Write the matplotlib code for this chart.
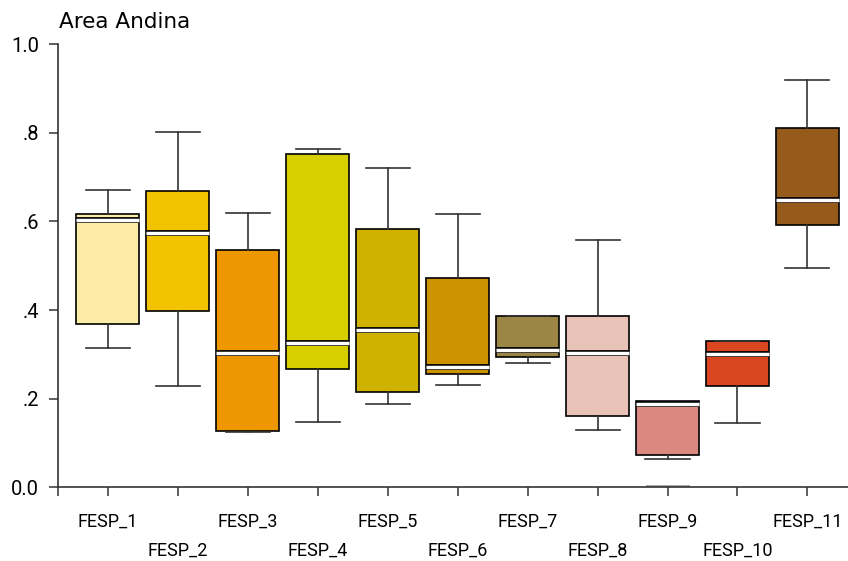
import matplotlib
matplotlib.use('Agg')
import matplotlib.pyplot as plt
import matplotlib.patheffects as pe

plt.rcParams['font.family'] = ['DejaVu Sans']

categories = ['FESP_1', 'FESP_2', 'FESP_3', 'FESP_4', 'FESP_5', 'FESP_6',
              'FESP_7', 'FESP_8', 'FESP_9', 'FESP_10', 'FESP_11']
whisker_low = [0.315, 0.228, 0.124, 0.148, 0.189, 0.231, 0.281, 0.130, 0.064, 0.144, 0.496]
q1 = [0.368, 0.399, 0.127, 0.267, 0.215, 0.256, 0.295, 0.162, 0.074, 0.228, 0.592]
medians = [0.604, 0.575, 0.304, 0.325, 0.356, 0.272, 0.310, 0.304, 0.188, 0.300, 0.649]
q3 = [0.616, 0.669, 0.535, 0.752, 0.584, 0.472, 0.386, 0.386, 0.194, 0.330, 0.811]
whisker_high = [0.672, 0.801, 0.619, 0.763, 0.720, 0.616, 0.386, 0.559, 0.194, 0.330, 0.920]
outliers = [[], [], [], [], [], [], [], [], [0.002], [], []]
colors = ['#FDEBA8', '#F2C300', '#EE9700', '#D8CF00', '#CFB100', '#CD9200',
          '#9C8646', '#EAC3B8', '#DB8880', '#D9461F', '#965B1B']

y_ticks = [0.0, 0.2, 0.4, 0.6, 0.8, 1.0]
y_labels = ['0.0', '.2', '.4', '.6', '.8', '1.0']

stats = []
for i, name in enumerate(categories):
    stats.append({
        'label': name,
        'whislo': whisker_low[i],
        'q1': q1[i],
        'med': medians[i],
        'q3': q3[i],
        'whishi': whisker_high[i],
        'fliers': outliers[i],
    })

fig = plt.figure(figsize=(8.48, 5.61), dpi=100)
ax = fig.add_axes([0.0684, 0.1314, 0.9316, 0.7897])

positions = list(range(1, len(categories) + 1))
bp = ax.bxp(stats, positions=positions, widths=0.9, capwidths=0.63,
            patch_artist=True, showfliers=True,
            boxprops=dict(edgecolor='black', linewidth=1.2),
            whiskerprops=dict(color='#333333', linewidth=1.2),
            capprops=dict(color='#333333', linewidth=1.2),
            medianprops=dict(color='white', linewidth=2.5, solid_capstyle='butt',
                             path_effects=[pe.Stroke(linewidth=4.2, foreground='black'),
                                           pe.Normal()]),
            flierprops=dict(marker='_', markersize=31, markeredgecolor='#999999',
                            markeredgewidth=1.2, linestyle='none'))

for box, c in zip(bp['boxes'], colors):
    box.set_facecolor(c)

ax.set_xlim(0.286, 11.58)
ax.set_ylim(0, 1.0)

for side in ['top', 'right']:
    ax.spines[side].set_visible(False)
for side in ['left', 'bottom']:
    ax.spines[side].set_color('#333333')
    ax.spines[side].set_linewidth(1.2)

# odd categories on the first row, even ones dropped to a second row
odd_pos = [0.286] + positions[0::2]
odd_lab = [''] + categories[0::2]
ax.set_xticks(odd_pos, labels=odd_lab)
ax.set_xticks(positions[1::2], labels=categories[1::2], minor=True)
ax.tick_params(axis='x', which='both', length=6.5, width=1.1, color='#333333',
               labelsize=13, labelfontfamily='Roboto')
ax.tick_params(axis='x', which='major', pad=12)
ax.tick_params(axis='x', which='minor', pad=32.5)

ax.set_yticks(y_ticks, labels=y_labels)
ax.tick_params(axis='y', length=6.5, width=1.1, color='#333333', labelsize=14.5,
               labelfontfamily='Roboto', pad=7)

fig.text(59 / 848, 1 - 28 / 561, 'Area Andina', fontsize=15.5, va='baseline', ha='left')

fig.savefig('out.png', dpi=100)
